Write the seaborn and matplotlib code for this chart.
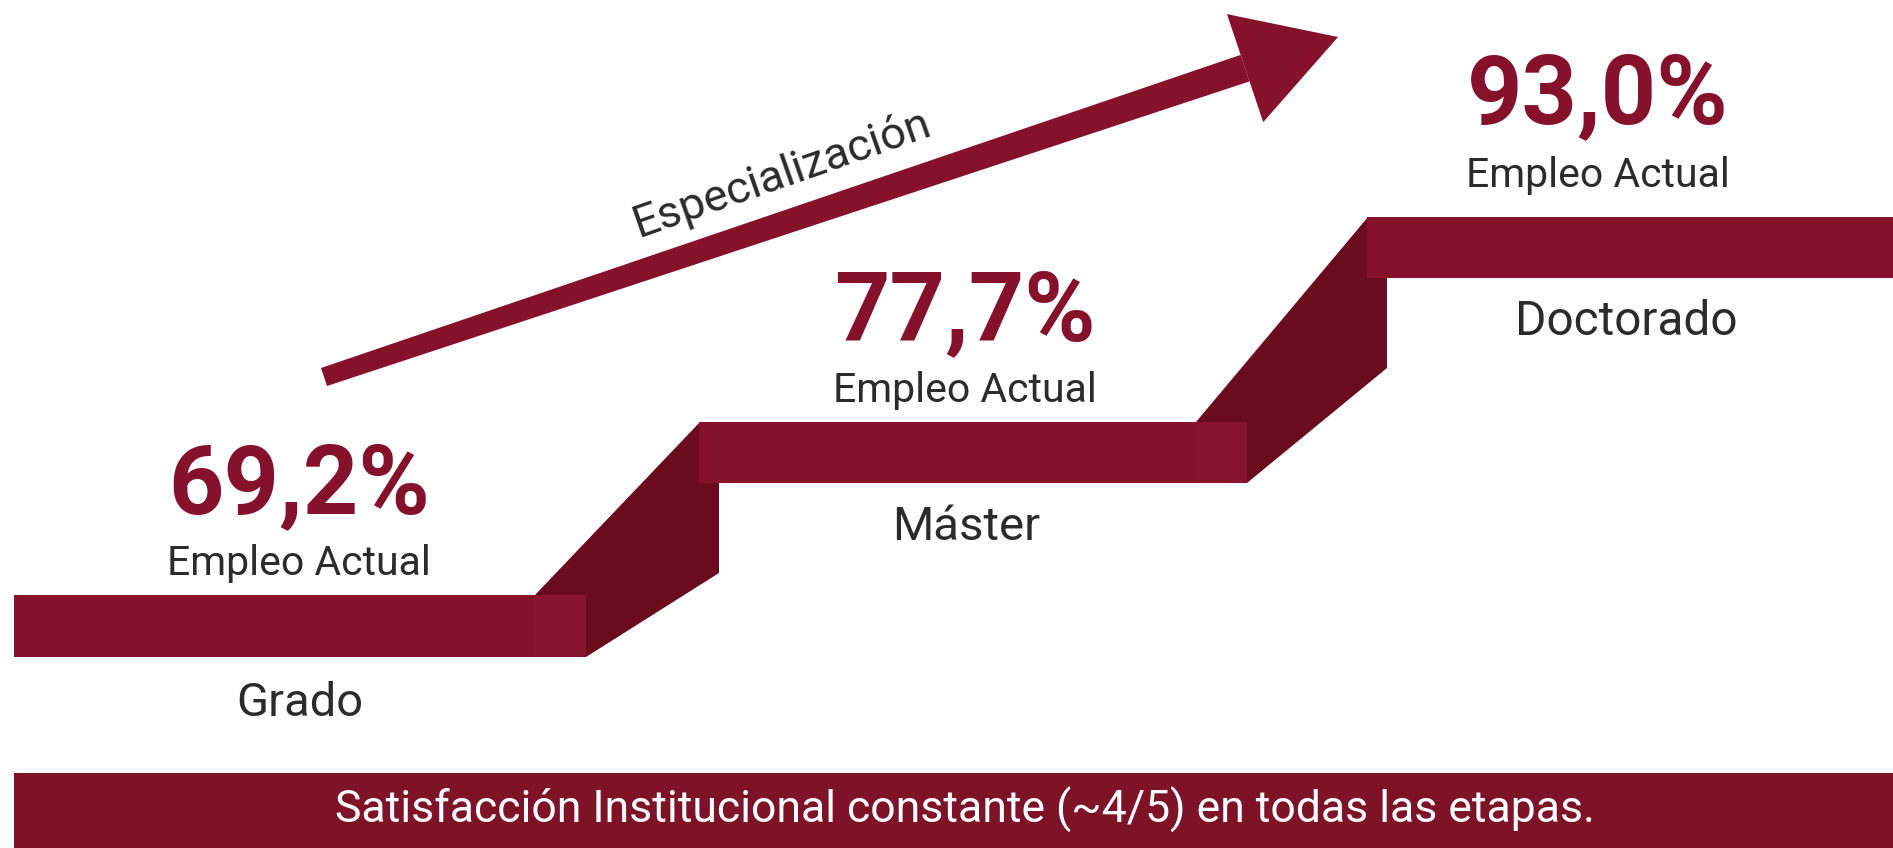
import matplotlib
matplotlib.use("Agg")
import matplotlib.pyplot as plt
import numpy as np
import seaborn as sns

# ---------------- data ----------------
categories = ["Grado", "Máster", "Doctorado"]
employment = [69.2, 77.7, 93.0]
value_caption = "Empleo Actual"
arrow_label = "Especialización"
footer_text = "Satisfacción Institucional constante (~4/5) en todas las etapas."

# ---------------- layout (pixel canvas) ----------------
W, H = 1893, 848
step_left = [14, 699, 1367]
step_right = [586, 1247, 1893]
step_top = [595, 422, 217]
step_bottom = [657, 483, 278]
cap_len = 51                         # end cap of each tread
riser_w = 20                         # visible riser side strip
num_x = [299, 965, 1598]
num_base = [513, 340, 123]
cap_base = [575, 402, 187]
lab_x = [300, 966, 1626]
lab_base = [716, 540, 335]
label_widths = [127, 148, 222]

RED = "#85112A"
RED_CAP = "#88132C"
DARK = "#6A0C1E"
BANNER = "#7E1227"
TXT = "#2B2B2B"

sns.set_theme(style="white")
plt.rcParams["font.family"] = ["Roboto", "DejaVu Sans"]

fig = plt.figure(figsize=(W / 100, H / 100), dpi=100)
fig.patch.set_facecolor("white")
ax = fig.add_axes([0, 0, 1, 1])
ax.set_xlim(0, W)
ax.set_ylim(H, 0)
ax.axis("off")

renderer = fig.canvas.get_renderer()


def fit(txt, target_w):
    rot = txt.get_rotation()
    txt.set_rotation(0)
    w = txt.get_window_extent(renderer).width
    txt.set_fontsize(txt.get_fontsize() * target_w / w)
    txt.set_rotation(rot)
    return txt


# ---------------- risers (dark side faces) ----------------
for i in range(len(categories) - 1):
    x0 = step_right[i] - cap_len
    poly = [
        (x0, step_top[i]),
        (step_left[i + 1] + 1, step_top[i + 1]),
        (step_left[i + 1] + riser_w, step_top[i + 1]),
        (step_left[i + 1] + riser_w, step_bottom[i + 1] + 90),
        (step_right[i], step_bottom[i]),
    ]
    xs, ys = zip(*poly)
    ax.fill(xs, ys, color=DARK, lw=0, zorder=1)

# ---------------- treads (front faces) ----------------
lefts = np.array(step_left)
widths = np.array(step_right) - lefts
centers = (np.array(step_top) + np.array(step_bottom)) / 2
heights = np.array(step_bottom) - np.array(step_top)
ax.barh(centers, widths, left=lefts, height=heights, color=RED, lw=0, zorder=2)
ax.barh(centers[:-1], [cap_len] * 2, left=np.array(step_right[:-1]) - cap_len,
        height=heights[:-1], color=RED_CAP, lw=0, zorder=3)

# ---------------- arrow ----------------
tail = np.array([324.0, 377.0])
tip = np.array([1338.0, 37.0])
d = tip - tail
L = np.hypot(*d)
u = d / L
n = np.array([u[1], -u[0]])
head_len, head_half = 98, 57
w_tail, w_head = 19, 28
base = tip - u * head_len
shaft = [tail + n * w_tail / 2, base + n * w_head / 2,
         base - n * w_head / 2, tail - n * w_tail / 2]
head = [base + n * head_half, tip, base - n * head_half]
for poly in (shaft, head):
    xs, ys = zip(*poly)
    ax.fill(xs, ys, color=RED, lw=0, zorder=4)

ang = np.degrees(np.arctan2(-d[1], d[0])) + 0.8
t = ax.text(638, 238, arrow_label, rotation=ang, rotation_mode="anchor",
            ha="left", va="baseline", fontsize=30, color=TXT, zorder=5)
fit(t, 312)

# ---------------- labels ----------------
for i, cat in enumerate(categories):
    v = f"{employment[i]:.1f}".replace(".", ",") + "%"
    t1 = ax.text(num_x[i], num_base[i], v, ha="center", va="baseline",
                 fontsize=60, fontweight="bold", color=RED, zorder=5)
    fit(t1, 262)
    t2 = ax.text(num_x[i], cap_base[i], value_caption, ha="center",
                 va="baseline", fontsize=25, color=TXT, zorder=5)
    fit(t2, 264)
    t3 = ax.text(lab_x[i], lab_base[i], cat, ha="center", va="baseline",
                 fontsize=30, color=TXT, zorder=5)
    fit(t3, label_widths[i])

# ---------------- footer banner ----------------
ax.barh([(773 + H) / 2], [W - 14], left=14, height=H - 773, color=BANNER,
        lw=0, zorder=2)
ft = ax.text(965, 823, footer_text, ha="center", va="baseline", fontsize=28,
             color="white", zorder=5)
fit(ft, 1258)

fig.savefig("out.png", dpi=100, facecolor="white")
